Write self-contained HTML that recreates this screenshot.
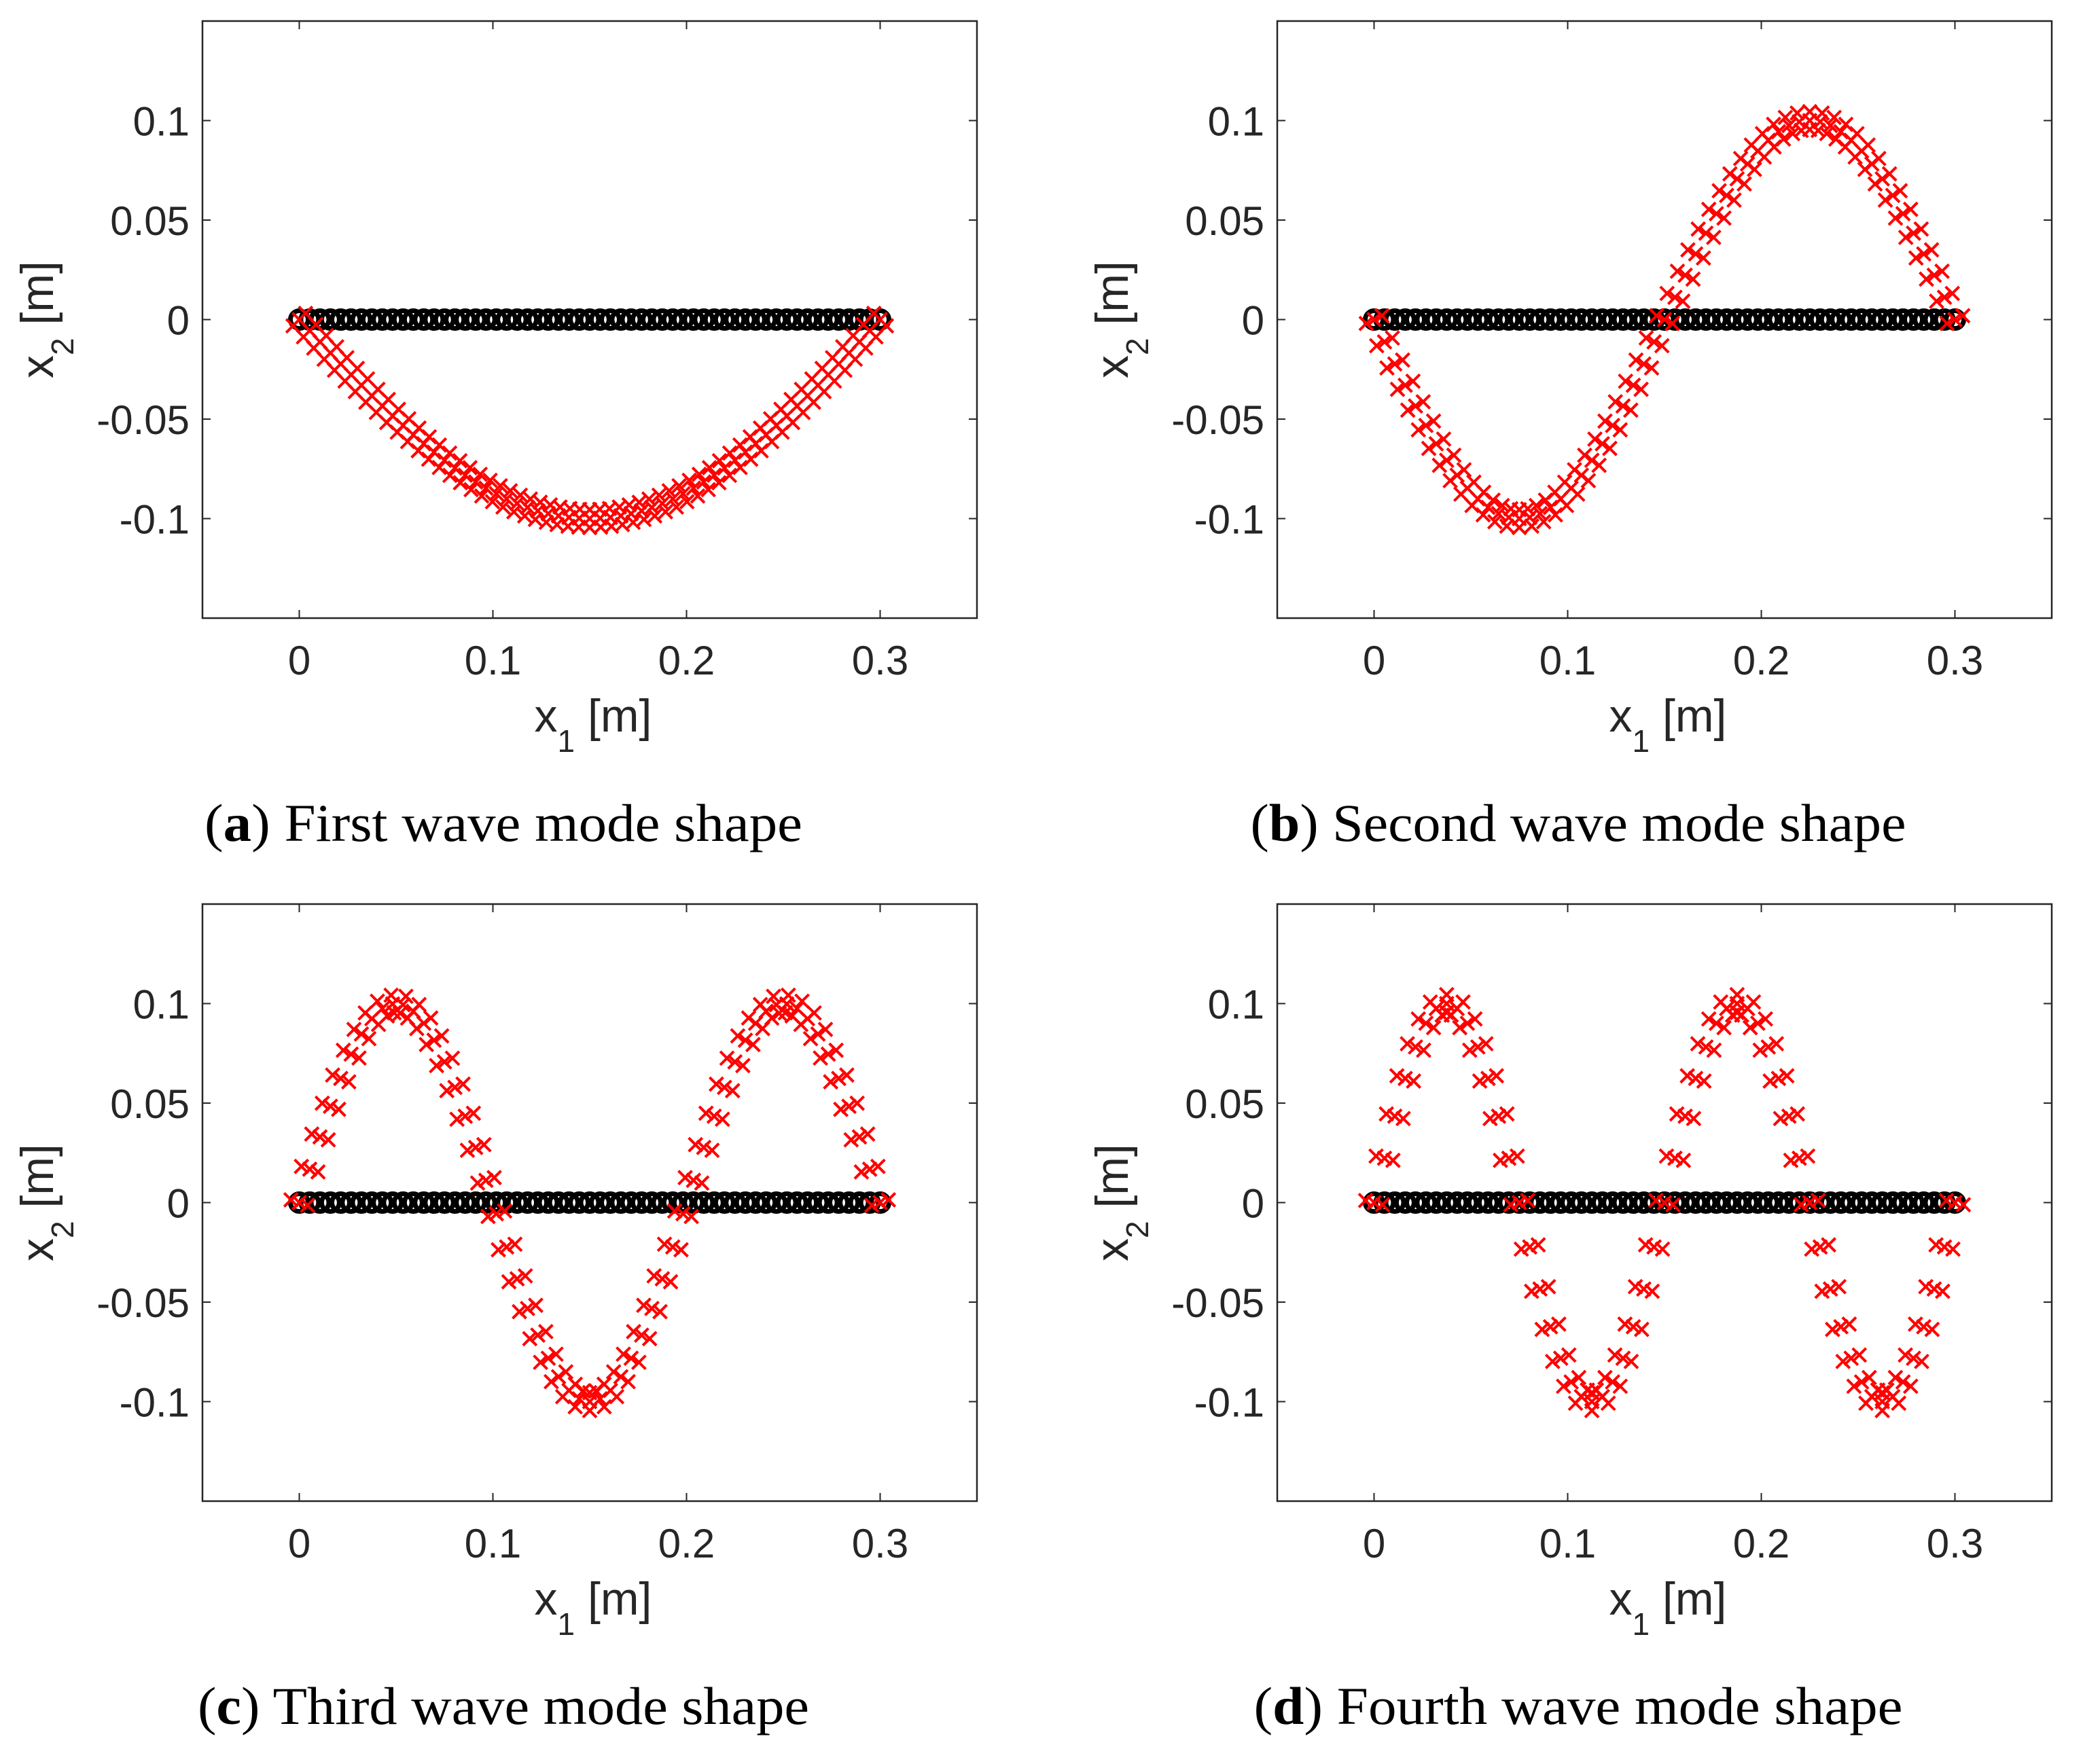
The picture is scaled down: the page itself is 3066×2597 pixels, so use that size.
<!DOCTYPE html>
<html><head><meta charset="utf-8"><style>
html,body{margin:0;padding:0;background:#fff;}
svg{display:block;}
.tick{font-family:"Liberation Sans",sans-serif;font-size:60px;fill:#262626;}
.alab{font-family:"Liberation Sans",sans-serif;font-size:68px;fill:#262626;}
.cap{font-family:"Liberation Serif",serif;font-size:78px;fill:#000;}
</style></head><body>
<svg id="fig" xmlns="http://www.w3.org/2000/svg" width="3066" height="2597" viewBox="0 0 3066 2597">
<rect width="3066" height="2597" fill="#fff"/>
</svg>
<script>
const nodes=[0,0.0054,0.0107,0.0161,0.0214,0.0268,0.0321,0.0375,0.0429,0.0482,0.0536,0.0589,0.0643,0.0696,0.0750,0.0804,0.0857,0.0911,0.0964,0.1018,0.1071,0.1125,0.1179,0.1232,0.1286,0.1339,0.1393,0.1446,0.1500,0.1554,0.1607,0.1661,0.1714,0.1768,0.1821,0.1875,0.1929,0.1982,0.2036,0.2089,0.2143,0.2196,0.2250,0.2304,0.2357,0.2411,0.2464,0.2518,0.2571,0.2625,0.2679,0.2732,0.2786,0.2839,0.2893,0.2946,0.3000];
const modeA=[0,-0.0056,-0.0112,-0.0168,-0.0223,-0.0277,-0.0330,-0.0383,-0.0434,-0.0484,-0.0532,-0.0579,-0.0624,-0.0666,-0.0707,-0.0746,-0.0782,-0.0816,-0.0847,-0.0875,-0.0901,-0.0924,-0.0944,-0.0961,-0.0975,-0.0986,-0.0994,-0.0998,-0.1000,-0.0998,-0.0994,-0.0986,-0.0975,-0.0961,-0.0944,-0.0924,-0.0901,-0.0875,-0.0847,-0.0816,-0.0782,-0.0746,-0.0707,-0.0666,-0.0624,-0.0579,-0.0532,-0.0484,-0.0434,-0.0383,-0.0330,-0.0277,-0.0223,-0.0168,-0.0112,-0.0056,0];
const modeB=[0,-0.0112,-0.0223,-0.0330,-0.0434,-0.0532,-0.0624,-0.0707,-0.0782,-0.0847,-0.0901,-0.0944,-0.0975,-0.0994,-0.1000,-0.0994,-0.0975,-0.0944,-0.0901,-0.0847,-0.0782,-0.0707,-0.0624,-0.0532,-0.0434,-0.0330,-0.0223,-0.0112,0,0.0112,0.0223,0.0330,0.0434,0.0532,0.0624,0.0707,0.0782,0.0847,0.0901,0.0944,0.0975,0.0994,0.1000,0.0994,0.0975,0.0944,0.0901,0.0847,0.0782,0.0707,0.0624,0.0532,0.0434,0.0330,0.0223,0.0112,0];
const modeC=[0,0.0168,0.0330,0.0484,0.0624,0.0746,0.0847,0.0924,0.0975,0.0998,0.0994,0.0961,0.0901,0.0816,0.0707,0.0579,0.0434,0.0277,0.0112,-0.0056,-0.0223,-0.0383,-0.0532,-0.0666,-0.0782,-0.0875,-0.0944,-0.0986,-0.1000,-0.0986,-0.0944,-0.0875,-0.0782,-0.0666,-0.0532,-0.0383,-0.0223,-0.0056,0.0112,0.0277,0.0434,0.0579,0.0707,0.0816,0.0901,0.0961,0.0994,0.0998,0.0975,0.0924,0.0847,0.0746,0.0624,0.0484,0.0330,0.0168,0];
const modeD=[0,0.0223,0.0434,0.0624,0.0782,0.0901,0.0975,0.1000,0.0975,0.0901,0.0782,0.0624,0.0434,0.0223,0,-0.0223,-0.0434,-0.0624,-0.0782,-0.0901,-0.0975,-0.1000,-0.0975,-0.0901,-0.0782,-0.0624,-0.0434,-0.0223,0,0.0223,0.0434,0.0624,0.0782,0.0901,0.0975,0.1000,0.0975,0.0901,0.0782,0.0624,0.0434,0.0223,0,-0.0223,-0.0434,-0.0624,-0.0782,-0.0901,-0.0975,-0.1000,-0.0975,-0.0901,-0.0782,-0.0624,-0.0434,-0.0223,0];
const undeformed=[0,0,0,0,0,0,0,0,0,0,0,0,0,0,0,0,0,0,0,0,0,0,0,0,0,0,0,0,0,0,0,0,0,0,0,0,0,0,0,0,0,0,0,0,0,0,0,0,0,0,0,0,0,0,0,0,0];
const xTicks=[0,0.1,0.2,0.3];
const xTickLabels=["0","0.1","0.2","0.3"];
const yTicks=[0.1,0.05,0,-0.05,-0.1];
const yTickLabels=["0.1","0.05","0","-0.05","-0.1"];
const captionLetters=["a","b","c","d"];
const captionTexts=[" First wave mode shape"," Second wave mode shape"," Third wave mode shape"," Fourth wave mode shape"];
const captionWidths=[880,965,900,955];

const NS="http://www.w3.org/2000/svg";
const svg=document.getElementById('fig');
const W=1140,H=879,XMIN=-0.05,XMAX=0.35,YMIN=-0.15,YMAX=0.15,THK=0.0045;
function mk(tag,attrs,parent){const e=document.createElementNS(NS,tag);for(const k in attrs)e.setAttribute(k,attrs[k]);(parent||svg).appendChild(e);return e;}

function panel(idx,ox,oy,vals){
  const g=mk('g',{});
  
  
  const sx=x=>ox+(x-XMIN)/(XMAX-XMIN)*W;
  const sy=y=>oy+(YMAX-y)/(YMAX-YMIN)*H;
  xTicks.forEach((t,i)=>{
    const X=sx(t);
    const a=mk('line',{x1:X,y1:oy+H,x2:X,y2:oy+H-12,stroke:'#262626','stroke-width':2},g);
    
    
    const b=mk('line',{x1:X,y1:oy,x2:X,y2:oy+12,stroke:'#262626','stroke-width':2},g);
    
    
    const tx=mk('text',{x:X,y:oy+H+83,'text-anchor':'middle',class:'tick'},g);
    tx.textContent=xTickLabels[i];
    
    
  });
  yTicks.forEach((t,i)=>{
    const Y=sy(t);
    const a=mk('line',{x1:ox,y1:Y,x2:ox+12,y2:Y,stroke:'#262626','stroke-width':2},g);
    
    
    const b=mk('line',{x1:ox+W,y1:Y,x2:ox+W-12,y2:Y,stroke:'#262626','stroke-width':2},g);
    
    
    const tx=mk('text',{x:ox-19,y:Y+22,'text-anchor':'end',class:'tick'},g);
    tx.textContent=yTickLabels[i];
    
    
  });
  const cg=mk('g',{},g);
  
  
  nodes.forEach((x,i)=>{
    const c=mk('circle',{cx:sx(x),cy:sy(undeformed[i]),r:13,fill:'none',stroke:'#000','stroke-width':7},cg);
    
    
  });
  const rg=mk('g',{},g);
  
  
  const n=nodes.length;
  nodes.forEach((x,i)=>{
    const i0=Math.max(0,i-1),i1=Math.min(n-1,i+1);
    const dx=nodes[i1]-nodes[i0],dy=vals[i1]-vals[i0];
    const L=Math.hypot(dx,dy)||1;
    const nx=-dy/L,ny=dx/L;
    [-1,0,1].forEach(k=>{
      const X=sx(x+k*THK*nx),Y=sy(vals[i]+k*THK*ny),s=10;
      const p=mk('path',{d:`M${X-s},${Y-s}L${X+s},${Y+s}M${X-s},${Y+s}L${X+s},${Y-s}`,stroke:'#ff0000','stroke-width':4,fill:'none'},rg);
      
      
    });
  });
  const box=mk('rect',{x:ox,y:oy,width:W,height:H,fill:'none',stroke:'#262626','stroke-width':2.5},g);
  
  
  const xl=mk('text',{x:ox+W/2+5,y:oy+H+167,'text-anchor':'middle',class:'alab'},g);
  xl.innerHTML='x<tspan font-size="46" dy="30">1</tspan><tspan dy="-30"> [m]</tspan>';
  
  
  const yx=ox-220,yy=oy+H/2;
  const yl=mk('text',{x:yx,y:yy,'text-anchor':'middle',class:'alab',transform:`rotate(-90 ${yx} ${yy})`},g);
  yl.innerHTML='x<tspan font-size="46" dy="30">2</tspan><tspan dy="-30"> [m]</tspan>';
  
  
  const capY=oy+1207;
  const cp=mk('text',{x:ox+443,y:capY,'text-anchor':'middle',class:'cap',textLength:captionWidths[idx],lengthAdjust:'spacingAndGlyphs'},g);
  cp.innerHTML='(<tspan font-weight="bold">'+captionLetters[idx]+'</tspan>)'+captionTexts[idx];
  
  
}
panel(0,298,31,modeA);
panel(1,1880,31,modeB);
panel(2,298,1331,modeC);
panel(3,1880,1331,modeD);
</script>
</body></html>
